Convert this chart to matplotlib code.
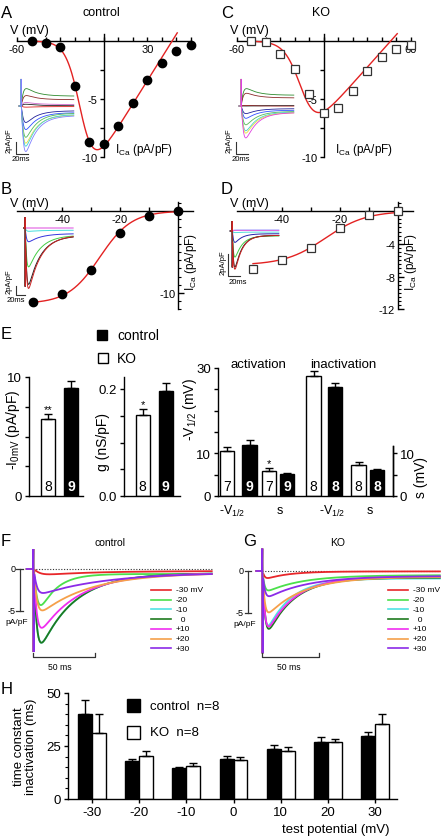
import numpy as np
import matplotlib
matplotlib.use('Agg')
import matplotlib.pyplot as plt
from matplotlib.lines import Line2D
from matplotlib.patches import Rectangle
from matplotlib.ticker import MultipleLocator, FixedLocator
import matplotlib.transforms as mtransforms

plt.rcParams['font.family'] = ['Liberation Sans', 'DejaVu Sans']
plt.rcParams['mathtext.fontset'] = 'custom'
plt.rcParams['mathtext.rm'] = 'Liberation Sans'
plt.rcParams['mathtext.it'] = 'Liberation Sans:italic'
plt.rcParams['mathtext.bf'] = 'Liberation Sans:bold'
plt.rcParams['axes.unicode_minus'] = False
plt.rcParams['axes.linewidth'] = 1.0

# ======================= DATA =======================
# A / C : current-voltage relations (pA/pF)
iv_voltage = [-50, -40, -30, -20, -10, 0, 10, 20, 30, 40, 50, 60]
iv_control = [0.0, -0.15, -0.55, -3.85, -8.7, -8.85, -7.3, -5.35, -3.4, -1.9, -0.9, -0.35]
iv_ko = [0.03, -0.1, -1.15, -2.4, -4.55, -6.2, -5.75, -4.3, -2.6, -1.4, -0.7, -0.35]
# Boltzmann-Ohm fit parameters: g, Vrev, V1/2, k
ivfit_control = (0.20, 47.0, -15.6, 4.8)
ivfit_ko = (0.14, 46.0, -15.0, 5.5)

# B / D : steady-state inactivation (pA/pF)
inact_voltage = [-50, -40, -30, -20, -10, 0]
inact_control = [-11.1, -10.15, -7.15, -2.7, -0.65, -0.05]
inact_ko = [-7.05, -6.0, -4.5, -2.1, -0.45, -0.05]
# Boltzmann fit parameters: Imax, V1/2, k
inactfit_control = (-11.3, -27.0, 5.5)
inactfit_ko = (-6.6, -25.0, 7.0)

# Inset example traces (colour, peak, steady) in pA/pF
insetA_colors = ['#2e8b2e', '#8b2a2a', '#cc66cc', '#222222', '#e02020', '#20209a',
                 '#3050ff', '#55bb55', '#e8e040', '#40d0d0', '#8080ff']
insetA_peak = [3.0, 1.8, 0.6, 0.3, -0.2, -2.8, -4.0, -5.3, -6.3, -6.8, -7.7]
insetA_steady = [1.65, 1.05, 0.25, 0.05, -0.1, -0.8, -1.1, -1.2, -1.5, -1.4, -1.6]
insetC_colors = ['#2e8b2e', '#8b2a2a', '#e02020', '#222222', '#20209a', '#3050ff',
                 '#55bb55', '#40d0d0', '#e8e040', '#e040e0']
insetC_peak = [3.0, 2.2, 0.1, 0.0, -1.3, -2.1, -3.2, -4.2, -4.6, -5.4]
insetC_steady = [1.8, 1.35, 0.0, 0.05, -0.45, -0.7, -0.9, -1.0, -1.1, -1.1]
insetB_colors = ['#dd44dd', '#44dddd', '#3333dd', '#44cc44', '#222222', '#cc2222']
insetB_peak = [0.0, -0.75, -3.1, -8.7, -12.6, -13.5]
insetB_steady = [0.0, -0.5, -1.25, -1.6, -1.7, -1.6]
insetD_colors = ['#aaaaff', '#dd66dd', '#55dddd', '#2222aa', '#44cc44', '#222222', '#cc2222']
insetD_peak = [0.1, 0.05, -0.15, -1.05, -2.4, -3.3, -3.5]
insetD_steady = [0.1, 0.05, -0.1, -0.25, -0.45, -0.4, -0.4]

# E : summary bars (KO, control)
groups_E = ['KO', 'control']
i0mv_mean = [6.5, 9.1]
i0mv_err = [0.4, 0.6]
g_mean = [0.151, 0.196]
g_err = [0.012, 0.015]
n_E = ['8', '9']
stars_E1 = ['**', '']
stars_E2 = ['*', '']
# activation / inactivation: order KO, control for -V1/2 and s
vhalf_labels = ['-V$_{1/2}$', 's', '-V$_{1/2}$', 's']
actinact_mean = [10.5, 12.0, 5.85, 5.1, 28.1, 25.5, 7.2, 6.1]
actinact_err = [1.0, 1.1, 0.7, 0.25, 1.2, 0.9, 0.7, 0.3]
actinact_n = ['7', '9', '7', '9', '8', '8', '8', '8']
actinact_stars = ['', '', '*', '', '', '', '', '']

# F / G : example traces at test potentials
test_labels = ['-30 mV', '-20', '-10', '  0', '+10', '+20', '+30']
test_colors = ['#e8262a', '#4be04b', '#4fe3e3', '#1f7a1f', '#f02df0', '#f5a04a', '#8b2be8']
ctrl_peak = [-0.65, -4.4, -8.9, -8.9, -7.1, -5.0, -2.9]
ctrl_tau = [40, 13, 27, 27, 31, 40, 53]
ctrl_steady = [-0.25, -0.6, -0.5, -0.5, -0.5, -0.45, -0.4]
ctrl_trise = [4.0, 2.5, 2.0, 2.0, 2.0, 2.0, 2.0]
ko_peak = [-0.85, -2.35, -6.6, -7.0, -6.7, -5.0, -3.05]
ko_tau = [20, 31, 21, 23, 24, 31, 35]
ko_steady = [-0.05, -0.5, -0.9, -0.8, -0.7, -0.7, -0.6]
ko_trise = [1.5, 1.5, 1.6, 1.8, 1.7, 1.6, 1.6]

# H : inactivation time constants (ms)
test_potential = ['-30', '-20', '-10', '0', '10', '20', '30']
tau_ctrl = [40.3, 17.7, 14.6, 18.8, 23.7, 27.1, 29.6]
tau_ctrl_err = [6.4, 1.0, 0.5, 1.3, 1.6, 2.0, 2.0]
tau_ko = [31.3, 20.3, 15.5, 18.4, 22.6, 26.9, 35.3]
tau_ko_err = [8.6, 2.2, 1.4, 1.4, 1.8, 1.6, 4.7]

# ======================= FIGURE =======================
W, H = 441, 837
fig = plt.figure(figsize=(W / 100, H / 100), dpi=100)
RED = '#e32222'


def px_axes(xv, xp, yv, yp, xlim, ylim):
    sx = (xp[1] - xp[0]) / (xv[1] - xv[0])
    sy = (yp[1] - yp[0]) / (yv[1] - yv[0])
    x0 = xp[0] + (xlim[0] - xv[0]) * sx
    x1 = xp[0] + (xlim[1] - xv[0]) * sx
    y0 = yp[0] + (ylim[0] - yv[0]) * sy
    y1 = yp[0] + (ylim[1] - yv[0]) * sy
    ax = fig.add_axes([x0 / W, 1 - y0 / H, (x1 - x0) / W, (y0 - y1) / H])
    ax.set_xlim(*xlim)
    ax.set_ylim(*ylim)
    ax.patch.set_visible(False)
    return ax


def ptext(x, y, s, **kw):
    kw.setdefault('ha', 'left')
    kw.setdefault('va', 'center')
    return fig.text(x / W, 1 - y / H, s, **kw)


def fig_line(x0, x1, y, **kw):
    fig.add_artist(Line2D([x0 / W, x1 / W], [1 - y / H, 1 - y / H],
                          transform=fig.transFigure, **kw))


def fig_rect(x, y, w, h, **kw):
    fig.add_artist(Rectangle((x / W, 1 - (y + h) / H), w / W, h / H,
                             transform=fig.transFigure, **kw))


def boltz_iv(v, g, vrev, vh, k):
    return g * (v - vrev) / (1 + np.exp((vh - v) / k))


def boltz_inact(v, imax, vh, k):
    return imax / (1 + np.exp((v - vh) / k))


def trace(t, peak, steady, tau, trise):
    r = 1 - np.exp(-t / trise)
    h = r ** 2 * np.exp(-t / tau)
    h = h / h.max()
    return steady * r + (peak - steady) * h


def draw_trace(ax, t_end, peak, steady, tau, trise, up, down, color, lw, pre=3.0):
    t = np.linspace(1.0, t_end, 500)
    y = trace(t, peak, steady, tau, trise)
    tt = np.concatenate([[-pre, 0, 0.2, 0.5], t])
    yy = np.concatenate([[0, 0, up, down], y])
    ax.plot(tt, yy, color=color, lw=lw, clip_on=False, solid_joinstyle='miter')


for lab, (x, y) in zip('ABCDEFGH', [(1, 13), (1, 190), (221, 13), (221, 190),
                                     (1, 335), (1, 542), (243, 542), (1, 690)]):
    ptext(x, y, lab, fontsize=12)

# ---------------- A / C ----------------
def iv_panel(dx, vals, fit, mkw, xlabels, title):
    ax = px_axes((-60, 0), (17 + dx, 104 + dx), (0, -10), (42, 158), (-62, 64), (-10.6, 1.3))
    for s in ['top', 'right']:
        ax.spines[s].set_visible(False)
    ax.spines['left'].set_position(('data', 0))
    ax.spines['bottom'].set_position(('data', 0))
    ax.spines['bottom'].set_bounds(-60, 60)
    ax.spines['left'].set_bounds(-10, 0.6)
    xt = np.arange(-60, 61, 10)
    ax.set_xticks(xt)
    ax.set_xticklabels([xlabels.get(int(v), '') for v in xt])
    ax.tick_params(axis='x', direction='in', length=3, width=1, pad=2, labelsize=8)
    ax.set_yticks([-10, -5])
    ax.set_yticklabels(['-10', '-5'])
    ax.yaxis.set_minor_locator(FixedLocator([-7.5, -2.5]))
    ax.tick_params(axis='y', which='both', direction='out', length=3, width=1, pad=1.5, labelsize=8)
    v = np.linspace(-52, 50.5, 300)
    ax.plot(v, boltz_iv(v, *fit), color=RED, lw=1.0, zorder=3, clip_on=False)
    ax.plot(iv_voltage, vals, ls='none', clip_on=False, zorder=5, **mkw)
    ptext(10 + dx, 31, 'V (mV)', fontsize=9)
    ptext(115 + dx, 150, r'I$_{\rm Ca}$ (pA/pF)', fontsize=8.5)
    ptext(101 + dx, 13, title, fontsize=9, ha='center')
    return ax


iv_panel(0, iv_control, ivfit_control,
         dict(marker='o', ms=6, mfc='black', mec='black'), {-60: '-60', 30: '30'}, 'control')
iv_panel(220, iv_ko, ivfit_ko,
         dict(marker='s', ms=5.5, mfc='white', mec='#333333', mew=0.9), {-60: '-60', 60: '60'}, 'KO')


def inset(colors, peaks, steadies, tau, trise, up, down, tx0, ty0, sx_ms, sy_u, t_end,
          scale_t, scale_i, bar_x, bar_ybottom, lab_x, lab_y, ms_x, ms_y):
    ax = px_axes((0, 20), (tx0, tx0 + 20 * sx_ms), (0, -2), (ty0, ty0 + 2 * sy_u),
                 (-25, t_end + 5), (-16, 6))
    ax.axis('off')
    for c, p, s in zip(colors, peaks, steadies):
        draw_trace(ax, t_end, p, s, tau, trise, up, down, c, 0.6)
    tb = (bar_x - tx0) / sx_ms
    yb = -(bar_ybottom - ty0) / sy_u
    ax.plot([tb, tb, tb + scale_t], [yb + scale_i, yb, yb], color='#333333', lw=0.8, clip_on=False)
    ptext(lab_x, lab_y, '2pA/pF', fontsize=5.5, rotation=90, ha='center')
    ptext(ms_x, ms_y, '20ms', fontsize=5.5, ha='center')


inset(insetA_colors, insetA_peak, insetA_steady, 18, 3.0, 4.5, 0.0,
      21, 107, 0.6, 6.0, 88, 20, 2, 16, 155, 9, 141, 21, 160)
inset(insetC_colors, insetC_peak, insetC_steady, 18, 3.0, 4.5, 0.0,
      241, 107, 0.6, 6.0, 88, 20, 2, 236, 155, 229, 141, 241, 160)

# ---------------- B / D ----------------
def inact_panel(dx, vals, fit, mkw, yticks, ylabels, minor):
    ax = px_axes((-40, -20), (62 + dx, 120 + dx), (0, -10), (212, 294), (-56, 6), (-12.2, 1.3))
    for s in ['top', 'right']:
        ax.spines[s].set_visible(False)
    ax.spines['left'].set_position(('data', 0))
    ax.spines['bottom'].set_position(('data', 0))
    ax.spines['bottom'].set_bounds(-55.5, 5)
    ax.spines['left'].set_bounds(-12, 1.1)
    xt = np.arange(-50, 1, 10)
    ax.set_xticks(xt)
    ax.set_xticklabels(['-40' if v == -40 else '-20' if v == -20 else '' for v in xt])
    ax.tick_params(axis='x', direction='in', length=3, width=1, pad=2, labelsize=8)
    ax.set_yticks(yticks)
    ax.set_yticklabels(ylabels)
    ax.yaxis.set_minor_locator(MultipleLocator(minor))
    ax.tick_params(axis='y', which='major', direction='in', length=4, width=1, pad=2, labelsize=8)
    ax.tick_params(axis='y', which='minor', direction='in', length=2, width=0.8)
    v = np.linspace(-50, 0, 200)
    ax.plot(v, boltz_inact(v, *fit), color=RED, lw=1.0, zorder=3, clip_on=False)
    ax.plot(inact_voltage, vals, ls='none', clip_on=False, zorder=5, **mkw)
    ptext(10 + dx, 204, 'V (mV)', fontsize=9)
    ptext(191 + dx, 262, r'I$_{\rm Ca}$ (pA/pF)', fontsize=8.5, rotation=90, ha='center')


inact_panel(0, inact_control, inactfit_control,
            dict(marker='o', ms=6, mfc='black', mec='black'), [-10], ['-10'], 1)
inact_panel(220, inact_ko, inactfit_ko,
            dict(marker='s', ms=5.5, mfc='white', mec='#333333', mew=0.9),
            [-12, -8, -4], ['-12', '-8', '-4'], 0.5)

# B inset
axb = px_axes((0, 20), (25, 34), (0, -2), (229, 238), (-25, 112), (-16, 4))
axb.axis('off')
for c, p, s in zip(insetB_colors, insetB_peak, insetB_steady):
    draw_trace(axb, 107, p, s, 27, 2.5, 2.4, -13.0, c, 0.7)
tb = (16 - 25) / 0.45
axb.plot([tb, tb, tb + 20], [-12.9, -14.9, -14.9], color='#333333', lw=0.8, clip_on=False)
ptext(9, 282, '2pA/pF', fontsize=5.5, rotation=90, ha='center')
ptext(16, 300, '20ms', fontsize=5.5, ha='center')

# D inset
axd = px_axes((0, 20), (232, 244), (0, -2), (232, 254), (-12, 82), (-4.6, 2.0))
axd.axis('off')
for c, p, s in zip(insetD_colors, insetD_peak, insetD_steady):
    draw_trace(axd, 78, p, s, 11.6, 1.8, 0.9, -3.3, c, 0.7)
tb = (228 - 232) / 0.6
axd.plot([tb, tb, tb + 20], [-2.1, -4.1, -4.1], color='#333333', lw=0.8, clip_on=False)
ptext(223, 263, '2pA/pF', fontsize=5.5, rotation=90, ha='center')
ptext(238, 283, '20ms', fontsize=5.5, ha='center')

# ---------------- E ----------------
fig_rect(97, 331, 10, 10, facecolor='black', edgecolor='black', lw=1)
ptext(117, 336, 'control', fontsize=10)
fig_rect(98, 354, 10, 10, facecolor='white', edgecolor='black', lw=1)
ptext(117, 359, 'KO', fontsize=10)


def style_bar_axes(ax):
    ax.spines['top'].set_visible(False)
    ax.spines['right'].set_visible(False)
    ax.set_xticks([])


def bar_pair(ax, xs, means, errs, width, ns, stars, ytxt_px):
    cols = ['white', 'black']
    tr = mtransforms.blended_transform_factory(ax.transData, fig.transFigure)
    for i, (x, m, e, n, st) in enumerate(zip(xs, means, errs, ns, stars)):
        col = cols[i % 2]
        ax.bar(x, m, width=width, color=col, edgecolor='black', lw=1, zorder=2)
        ax.errorbar(x, m, yerr=[[0], [e]], fmt='none', ecolor='black', elinewidth=1,
                    capsize=3, capthick=1, zorder=3)
        ax.text(x, 1 - ytxt_px / H, n, transform=tr, ha='center', va='center', fontsize=10,
                color='white' if col == 'black' else 'black',
                fontweight='bold' if col == 'black' else 'normal', zorder=4)
        if st:
            ax.annotate(st, (x, m + e), xytext=(0, 0), textcoords='offset points',
                        ha='center', va='bottom', fontsize=8)


ax1 = px_axes((0, 1), (48, 71), (0, 10), (497, 378), (-0.826, 1.52), (0, 10.1))
style_bar_axes(ax1)
ax1.spines['left'].set_bounds(0, 10)
bar_pair(ax1, [0, 1], i0mv_mean, i0mv_err, 14 / 23, n_E, stars_E1, 487)
ax1.set_yticks([0, 5, 10])
ax1.set_yticklabels(['0', '', '10'])
ax1.yaxis.set_minor_locator(FixedLocator([2.5, 7.5]))
ax1.tick_params(axis='y', which='both', direction='out', length=3, width=1, labelsize=9.5, pad=2)
ptext(13, 430, r'-I$_{\rm 0mV}$ (pA/pF)', fontsize=10, rotation=90, ha='center')

ax2 = px_axes((0, 1), (142.5, 165.5), (0, 0.2), (497, 390), (-0.804, 1.63), (0, 0.222))
style_bar_axes(ax2)
ax2.spines['left'].set_bounds(0, 0.222)
bar_pair(ax2, [0, 1], g_mean, g_err, 14 / 23, n_E, stars_E2, 487)
ax2.set_yticks([0, 0.1, 0.2])
ax2.set_yticklabels(['0.0', '', '0.2'])
ax2.yaxis.set_minor_locator(FixedLocator([0.05, 0.15]))
ax2.tick_params(axis='y', which='both', direction='out', length=3, width=1, labelsize=9.5, pad=2)
ptext(103, 442, 'g (nS/pF)', fontsize=10, rotation=90, ha='center')

e3_x = [0, 1.125, 2.1, 3.0, 4.325, 5.4, 6.575, 7.5]
ax3 = px_axes((0, 7.5), (227, 377), (0, 30), (497, 369), (-0.45, 8.3), (0, 30.5))
ax3.spines['top'].set_visible(False)
ax3.spines['right'].set_bounds(0, 11.7)
ax3.spines['left'].set_bounds(0, 30)
ax3.set_xticks([])
bar_pair(ax3, e3_x, actinact_mean, actinact_err, 0.72, actinact_n, actinact_stars, 487)
ax3.set_yticks([0, 10, 20, 30])
ax3.set_yticklabels(['0', '10', '', '30'])
ax3.yaxis.set_minor_locator(FixedLocator([5, 15, 25]))
ax3.tick_params(axis='y', which='both', direction='out', length=3, width=1, labelsize=9.5, pad=2)
ax3r = ax3.twinx()
ax3r.set_ylim(ax3.get_ylim())
for s in ['top', 'left', 'bottom']:
    ax3r.spines[s].set_visible(False)
ax3r.spines['right'].set_bounds(0, 11.7)
ax3r.set_yticks([0, 5, 10])
ax3r.set_yticklabels(['0', '', '10'])
ax3r.tick_params(axis='y', direction='out', length=3, width=1, labelsize=9.5, pad=2)
ptext(190, 410, '-V$_{1/2}$ (mV)', fontsize=10, rotation=90, ha='center')
ptext(421, 478, 's (mV)', fontsize=10, rotation=90, ha='center')
for lab, xx in zip(vhalf_labels, [232, 280, 332, 370]):
    ptext(xx, 511, lab, fontsize=9, ha='center')
ptext(258, 365, 'activation', fontsize=9.5, ha='center')
ptext(343, 365, 'inactivation', fontsize=9.5, ha='center')

# ---------------- F / G ----------------
def trace_panel(x_px, y0_px, px_per_ms, t_end, peaks, taus, steadies, trises, up, down,
                bar_x_px, title, title_x, leg_x):
    ax = px_axes((0, 50), (x_px, x_px + 50 * px_per_ms), (0, -5), (y0_px, y0_px + 41.5),
                 (-(x_px - 2) / px_per_ms, t_end + 2), (-11.5, 3.2))
    ax.axis('off')
    ax.plot([0, t_end], [0, 0], ls=(0, (1, 1.5)), color='#333333', lw=0.8)
    for c, p, tau, s, tr in zip(test_colors, peaks, taus, steadies, trises):
        draw_trace(ax, t_end, p, s, tau, tr, up, down, c, 1.3, pre=5)
    sy = 41.5 / 5
    yb = -(658 - y0_px) / sy
    ax.plot([0, 0, 50, 50], [yb + 0.45, yb, yb, yb + 0.45], color='#333333', lw=0.9, clip_on=False)
    tb = (bar_x_px - x_px) / px_per_ms
    dt = 3.2 / px_per_ms
    ax.plot([tb, tb], [0, -5], color='#333333', lw=0.9, clip_on=False)
    ax.plot([tb - dt, tb + dt], [0, 0], color='#333333', lw=0.9, clip_on=False)
    ax.plot([tb - dt, tb + dt], [-5, -5], color='#333333', lw=0.9, clip_on=False)
    ptext(bar_x_px - 4, y0_px, '0', fontsize=6.5, ha='right')
    ptext(bar_x_px - 4, y0_px + 42, '-5', fontsize=6.5, ha='right')
    ptext(bar_x_px - 3, y0_px + 53, 'pA/pF', fontsize=6, ha='center')
    ptext(x_px + 27, 668, '50 ms', fontsize=6.2, ha='center')
    ptext(title_x, 543, title, fontsize=7.5, ha='center')
    for i, (c, lab) in enumerate(zip(test_colors, test_labels)):
        yy = 591 + 9.7 * i
        fig_line(leg_x, leg_x + 20, yy, color=c, lw=1.2)
        ptext(leg_x + 25, yy, lab, fontsize=6)


trace_panel(33, 570, 1.25, 143, ctrl_peak, ctrl_tau, ctrl_steady, ctrl_trise, 2.4, -10.0,
            19.5, 'control', 110, 151)
trace_panel(262, 572, 1.14, 156, ko_peak, ko_tau, ko_steady, ko_trise, 2.7, -9.9,
            248, 'KO', 338, 388)

# ---------------- H ----------------
axh = px_axes((0, 6), (92, 375), (0, 25), (800, 747), (-0.509, 6.466), (0, 52))
xh = np.arange(len(test_potential))
bw = 14 / 47.17
axh.bar(xh - bw / 2, tau_ctrl, width=bw, color='black', edgecolor='black', lw=1, zorder=2)
axh.bar(xh + bw / 2, tau_ko, width=bw, color='white', edgecolor='black', lw=1, zorder=2)
axh.errorbar(xh - bw / 2, tau_ctrl, yerr=[np.zeros(len(xh)), tau_ctrl_err], fmt='none',
             ecolor='black', elinewidth=1, capsize=3, capthick=1, zorder=3)
axh.errorbar(xh + bw / 2, tau_ko, yerr=[np.zeros(len(xh)), tau_ko_err], fmt='none',
             ecolor='black', elinewidth=1, capsize=3, capthick=1, zorder=3)
axh.spines['top'].set_visible(False)
axh.spines['right'].set_visible(False)
axh.spines['left'].set_bounds(0, 50)
axh.set_yticks([0, 25, 50])
axh.yaxis.set_minor_locator(MultipleLocator(5))
axh.set_xticks(xh)
axh.set_xticklabels(test_potential)
axh.tick_params(axis='both', which='major', direction='out', length=3, width=1, labelsize=9.5, pad=2)
axh.tick_params(axis='y', which='minor', direction='out', length=2, width=0.8)
ptext(390, 830, 'test potential (mV)', fontsize=9.5, ha='right')
ptext(25, 747, 'time constant\ninactivation (ms)', fontsize=9.5, rotation=90, ha='center',
      linespacing=1.0)
fig_rect(127, 700, 13, 13, facecolor='black', edgecolor='black', lw=1)
ptext(150, 707, 'control  n=8', fontsize=9.5)
fig_rect(127, 727, 13, 13, facecolor='white', edgecolor='black', lw=1)
ptext(150, 733, 'KO  n=8', fontsize=9.5)

fig.savefig('out.png', dpi=100)
